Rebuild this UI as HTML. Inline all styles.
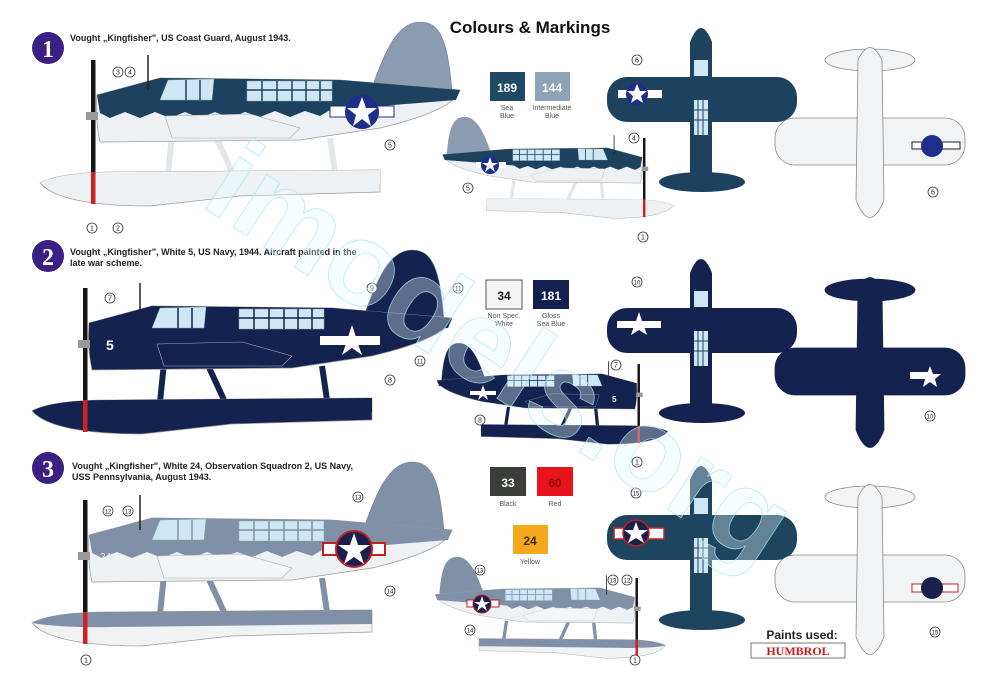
<!DOCTYPE html>
<html><head><meta charset="utf-8"><style>
html,body{margin:0;padding:0;background:#fff;}
svg{display:block;font-family:"Liberation Sans",sans-serif;}
</style></head><body>
<svg width="1000" height="700" viewBox="0 0 1000 700" xmlns="http://www.w3.org/2000/svg">
<defs>
<g id="side">
  <path d="M372,88 C385,50 398,22 420,22 C440,22 448,40 452,92 Z" style="fill:var(--fin)" stroke="#6d7c90" stroke-width="0.6"/>
  <g style="stroke:var(--strut)" stroke-width="6">
    <line x1="172" y1="135" x2="168" y2="174"/><line x1="215" y1="135" x2="232" y2="172"/><line x1="330" y1="138" x2="335" y2="172"/>
  </g>
  <path d="M40,183 Q60,172 120,172 L380,170 L380,192 L240,196 L150,206 Q60,206 40,183 Z" style="fill:var(--flt)" stroke="#999" stroke-width="0.7"/>
  <path d="M40,183 Q60,172 120,172 L380,170 L380,184 L120,187 Q70,188 40,183 Z" style="fill:var(--fltTop)"/>
  <path d="M97,95 L160,78 L340,80 L460,90 Q455,110 380,128 L300,140 L100,142 Q95,120 97,95 Z" style="fill:var(--low)" stroke="#999" stroke-width="0.7"/>
  <path d="M97,95 L160,78 L340,80 L460,90 L456,100 L330,110 L320,116 L305,111 L290,117 L275,111 L260,117 L245,112 L230,118 L215,112 L200,118 L185,112 L170,118 L155,112 L140,118 L125,112 L110,118 L100,113 Z" style="fill:var(--top)"/>
  <path d="M165,116 L250,114 L300,128 L290,138 L172,138 Z" style="fill:var(--wing)" stroke="#aaa" stroke-width="0.6"/>
  <g fill="#cfe6f5" stroke="#8aa" stroke-width="0.5">
    <path d="M168,80 L214,79 L212,100 L160,100 Z"/>
    <rect x="247" y="81" width="85" height="20"/>
  </g>
  <g style="stroke:var(--top)" stroke-width="1.5">
    <line x1="186" y1="80" x2="186" y2="100"/><line x1="200" y1="80" x2="200" y2="100"/>
    <line x1="262" y1="81" x2="262" y2="101"/><line x1="277" y1="81" x2="277" y2="101"/><line x1="292" y1="81" x2="292" y2="101"/><line x1="306" y1="81" x2="306" y2="101"/><line x1="320" y1="81" x2="320" y2="101"/>
    <line x1="247" y1="90" x2="332" y2="90"/>
  </g>
  <line x1="148" y1="55" x2="148" y2="90" stroke="#222" stroke-width="1.5"/>
  <rect x="91" y="60" width="4.5" height="112" fill="#151515"/>
  <rect x="91" y="172" width="4.5" height="32" fill="#d02020"/>
  <rect x="86" y="112" width="12" height="8" fill="#999"/>
</g>
<g id="topv">
  <rect x="607" y="77" width="190" height="45" rx="20" style="fill:var(--c)"/>
  <path d="M690,42 Q701,14 712,42 L712,175 Q701,195 690,175 Z" style="fill:var(--c)"/>
  <ellipse cx="702" cy="182" rx="43" ry="10" style="fill:var(--c)"/>
  <g fill="#cfe6f5"><rect x="694" y="60" width="14" height="16"/><rect x="694" y="100" width="14" height="35"/></g>
  <g stroke="#1d4260" stroke-width="1"><line x1="698" y1="100" x2="698" y2="135"/><line x1="703" y1="100" x2="703" y2="135"/><line x1="694" y1="110" x2="708" y2="110"/><line x1="694" y1="120" x2="708" y2="120"/></g>
</g>
<g id="botv" style="stroke:var(--s)" stroke-width="0.8">
  <ellipse cx="870" cy="60" rx="45" ry="11" style="fill:var(--c)"/>
  <rect x="775" y="118" width="190" height="47" rx="20" style="fill:var(--c)"/>
  <path d="M858,60 Q870,35 882,60 L884,200 Q870,235 856,200 Z" style="fill:var(--c)"/>
</g>
</defs>

<text x="530" y="33" font-size="17" font-weight="bold" text-anchor="middle" fill="#111">Colours &amp; Markings</text>

<g font-weight="bold" fill="#fff" text-anchor="middle" font-family="Liberation Serif,serif">
<circle cx="48" cy="48" r="16" fill="#3b1f82"/><text x="48" y="57" font-size="24">1</text>
<circle cx="48" cy="256" r="16" fill="#3b1f82"/><text x="48" y="265" font-size="24">2</text>
<circle cx="48" cy="468" r="16" fill="#3b1f82"/><text x="48" y="477" font-size="24">3</text>
</g>
<g font-size="9" font-weight="bold" fill="#222">
<text x="70" y="41">Vought „Kingfisher", US Coast Guard,  August 1943.</text>
<text x="70" y="255">Vought „Kingfisher", White 5, US Navy, 1944. Aircraft painted in the</text>
<text x="70" y="266">late war scheme.</text>
<text x="72" y="469">Vought „Kingfisher", White 24, Observation Squadron 2, US Navy,</text>
<text x="72" y="480">USS Pennsylvania, August 1943.</text>
</g>

<use href="#side" style="--fin:#8b9cb1;--strut:#e4e7ea;--flt:#eef1f4;--fltTop:#eef1f4;--low:#eef1f4;--top:#1d4260;--wing:#eef1f4"/>
<use href="#side" transform="translate(695.5,105) scale(-0.55,0.55)" style="--fin:#8b9cb1;--strut:#e4e7ea;--flt:#eef1f4;--fltTop:#eef1f4;--low:#eef1f4;--top:#1d4260;--wing:#eef1f4"/>
<use href="#side" transform="translate(-8,228)" style="--fin:#14224f;--strut:#14224f;--flt:#14224f;--fltTop:#14224f;--low:#14224f;--top:#14224f;--wing:#14224f"/>
<use href="#side" transform="translate(690,331) scale(-0.55,0.55)" style="--fin:#14224f;--strut:#14224f;--flt:#14224f;--fltTop:#14224f;--low:#14224f;--top:#14224f;--wing:#14224f"/>
<use href="#side" transform="translate(-8,440)" style="--fin:#7f90a7;--strut:#7f90a7;--flt:#f0f2f4;--fltTop:#7f90a7;--low:#eef1f4;--top:#7f90a7;--wing:#f4f5f7"/>
<use href="#side" transform="translate(688,545) scale(-0.55,0.55)" style="--fin:#7f90a7;--strut:#7f90a7;--flt:#f0f2f4;--fltTop:#7f90a7;--low:#eef1f4;--top:#7f90a7;--wing:#f4f5f7"/>

<g>
<rect x="330" y="106" width="64" height="11" fill="#fff" stroke="#1d2f8a" stroke-width="1"/>
<circle cx="362" cy="112" r="17" fill="#1d2f8a"/>
<polygon points="362,97 366,108 377,108 368,115 371,126 362,119 353,126 356,115 347,108 358,108" fill="#fff"/>
<rect x="476" y="162" width="30" height="6" fill="#fff"/><circle cx="490" cy="165" r="9" fill="#1d2f8a"/>
<polygon points="490,157 492,163 498,163 493,166 495,172 490,168 485,172 487,166 482,163 488,163" fill="#fff"/>
<rect x="320" y="336" width="60" height="9" fill="#fff"/>
<polygon points="352,325 356,337 368,337 358,344 362,355 352,348 342,355 346,344 336,337 348,337" fill="#fff"/>
<polygon points="483,385 485,391 491,391 486,394 488,400 483,396 478,400 480,394 475,391 481,391" fill="#fff"/>
<rect x="470" y="391" width="26" height="4" fill="#fff"/>
<rect x="323" y="543" width="62" height="12" fill="#fff" stroke="#c02020" stroke-width="2"/>
<circle cx="354" cy="549" r="18" fill="#1a1f4d" stroke="#c02020" stroke-width="2"/>
<polygon points="354,533 358,545 370,545 360,552 364,564 354,557 344,564 348,552 338,545 350,545" fill="#fff"/>
<rect x="467" y="600" width="32" height="7" fill="#fff" stroke="#c02020"/><circle cx="482" cy="604" r="9" fill="#1a1f4d" stroke="#c02020"/>
<polygon points="482,596 484,602 490,602 485,605 487,611 482,607 477,611 479,605 474,602 480,602" fill="#fff"/>
</g>
<text x="106" y="350" font-size="14" font-weight="bold" fill="#fff">5</text>
<text x="612" y="402" font-size="8" font-weight="bold" fill="#fff">5</text>
<text x="100" y="560" font-size="10" fill="#e8f0ff">24</text>

<use href="#topv" style="--c:#1d4260"/>
<use href="#botv" style="--c:#f2f3f5;--s:#888"/>
<use href="#topv" transform="translate(0,231)" style="--c:#14224f"/>
<use href="#botv" transform="translate(0,230)" style="--c:#14224f;--s:#14224f"/>
<use href="#topv" transform="translate(0,438)" style="--c:#1e4560"/>
<use href="#botv" transform="translate(0,437)" style="--c:#f2f3f5;--s:#888"/>
<g fill="#fff">
<rect x="618" y="90" width="44" height="8"/><circle cx="637" cy="94" r="11" fill="#1d2f8a"/>
<polygon points="637,84 640,91 647,91 641,96 643,103 637,99 631,103 633,96 627,91 634,91"/>
<rect x="617" y="321" width="44" height="7"/>
<polygon points="639,312 642,321 651,321 644,326 647,335 639,330 631,335 634,326 627,321 636,321"/>
<rect x="912" y="142" width="48" height="7" stroke="#222"/><circle cx="932" cy="146" r="11" fill="#1d2f8a"/>
<rect x="910" y="372" width="20" height="7"/>
<polygon points="930,366 933,374 941,374 935,379 937,387 930,382 923,387 925,379 919,374 927,374"/>
<rect x="614" y="528" width="50" height="11" stroke="#c02020" stroke-width="1.5"/><circle cx="636" cy="533" r="13" fill="#1a1f4d" stroke="#c02020" stroke-width="1.5"/>
<polygon points="636,522 639,530 648,530 641,535 644,543 636,538 628,543 631,535 624,530 633,530"/>
<rect x="912" y="584" width="46" height="8" stroke="#c02020"/><circle cx="932" cy="588" r="11" fill="#1a1f4d"/>
</g>

<g font-size="7" fill="#555" text-anchor="middle">
<rect x="490" y="72" width="35" height="29" fill="#1f4a63"/><text x="507" y="92" font-size="12" font-weight="bold" fill="#fff">189</text>
<text x="507" y="110">Sea</text><text x="507" y="118">Blue</text>
<rect x="535" y="72" width="35" height="29" fill="#8fa3b8"/><text x="552" y="92" font-size="12" font-weight="bold" fill="#fff">144</text>
<text x="552" y="110">Intermediate</text><text x="552" y="118">Blue</text>
<rect x="486" y="280" width="36" height="29" fill="#f5f5f5" stroke="#555"/><text x="504" y="300" font-size="12" font-weight="bold" fill="#222">34</text>
<text x="504" y="318">Non Spec.</text><text x="504" y="326">White</text>
<rect x="533" y="280" width="36" height="29" fill="#13204f"/><text x="551" y="300" font-size="12" font-weight="bold" fill="#fff">181</text>
<text x="551" y="318">Gloss</text><text x="551" y="326">Sea Blue</text>
<rect x="490" y="467" width="36" height="29" fill="#3a3d3a"/><text x="508" y="487" font-size="12" font-weight="bold" fill="#fff">33</text>
<text x="508" y="506">Black</text>
<rect x="537" y="467" width="36" height="29" fill="#e8141b"/><text x="555" y="487" font-size="12" font-weight="bold" fill="#8a0a0a">60</text>
<text x="555" y="506">Red</text>
<rect x="513" y="525" width="35" height="29" fill="#f4a91b"/><text x="530" y="545" font-size="12" font-weight="bold" fill="#3a2a00">24</text>
<text x="530" y="564">Yellow</text>
</g>

<g font-size="7" text-anchor="middle">
<g fill="#fff" stroke="#333" stroke-width="0.8">
<circle cx="118" cy="72" r="5"/><circle cx="130" cy="72" r="5"/><circle cx="390" cy="145" r="5"/>
<circle cx="92" cy="228" r="5"/><circle cx="118" cy="228" r="5"/><circle cx="468" cy="188" r="5"/><circle cx="634" cy="138" r="5"/><circle cx="643" cy="237" r="5"/><circle cx="637" cy="60" r="5"/><circle cx="933" cy="192" r="5"/>
<circle cx="110" cy="298" r="5"/><circle cx="372" cy="288" r="5"/><circle cx="458" cy="288" r="5"/><circle cx="390" cy="380" r="5"/><circle cx="420" cy="361" r="5"/><circle cx="480" cy="420" r="5"/><circle cx="616" cy="365" r="5"/><circle cx="637" cy="462" r="5"/><circle cx="637" cy="282" r="5"/><circle cx="930" cy="416" r="5"/>
<circle cx="108" cy="511" r="5"/><circle cx="128" cy="511" r="5"/><circle cx="358" cy="497" r="5"/><circle cx="390" cy="591" r="5"/><circle cx="480" cy="570" r="5"/><circle cx="470" cy="630" r="5"/><circle cx="613" cy="580" r="5"/><circle cx="627" cy="580" r="5"/><circle cx="635" cy="660" r="5"/><circle cx="86" cy="660" r="5"/><circle cx="636" cy="493" r="5"/><circle cx="935" cy="632" r="5"/>
</g>
<g fill="#222">
<text x="118" y="74.5">3</text><text x="130" y="74.5">4</text><text x="390" y="147.5">5</text>
<text x="92" y="230.5">1</text><text x="118" y="230.5">2</text><text x="468" y="190.5">5</text><text x="634" y="140.5">4</text><text x="643" y="239.5">1</text><text x="637" y="62.5">6</text><text x="933" y="194.5">6</text>
<text x="110" y="300.5">7</text><text x="372" y="290.5">9</text><text x="458" y="290.5" font-size="6">11</text><text x="390" y="382.5">8</text><text x="420" y="363.5" font-size="6">11</text><text x="480" y="422.5">8</text><text x="616" y="367.5">7</text><text x="637" y="464.5">1</text><text x="637" y="284.5" font-size="6">10</text><text x="930" y="418.5" font-size="6">10</text>
<text x="108" y="513.5" font-size="6">12</text><text x="128" y="513.5" font-size="6">13</text><text x="358" y="499.5" font-size="6">13</text><text x="390" y="593.5" font-size="6">14</text><text x="480" y="572.5" font-size="6">13</text><text x="470" y="632.5" font-size="6">14</text><text x="613" y="582.5" font-size="6">13</text><text x="627" y="582.5" font-size="6">12</text><text x="635" y="662.5">1</text><text x="86" y="662.5">1</text><text x="636" y="495.5" font-size="6">15</text><text x="935" y="634.5" font-size="6">15</text>
</g>
</g>

<text x="802" y="639" font-size="12" font-weight="bold" text-anchor="middle" fill="#222">Paints used:</text>
<rect x="751" y="643" width="94" height="15" fill="#fff" stroke="#777"/>
<text x="798" y="655" font-size="12" font-weight="bold" text-anchor="middle" fill="#d01818" font-family="Liberation Serif,serif">HUMBROL</text>

<text x="490" y="390" font-size="118" font-weight="bold" text-anchor="middle" transform="rotate(33 490 370)" fill="#e4f8fb" fill-opacity="0.35" stroke="#a8e6ee" stroke-opacity="0.8" stroke-width="0.8">imodels.org</text>
</svg>
</body></html>
